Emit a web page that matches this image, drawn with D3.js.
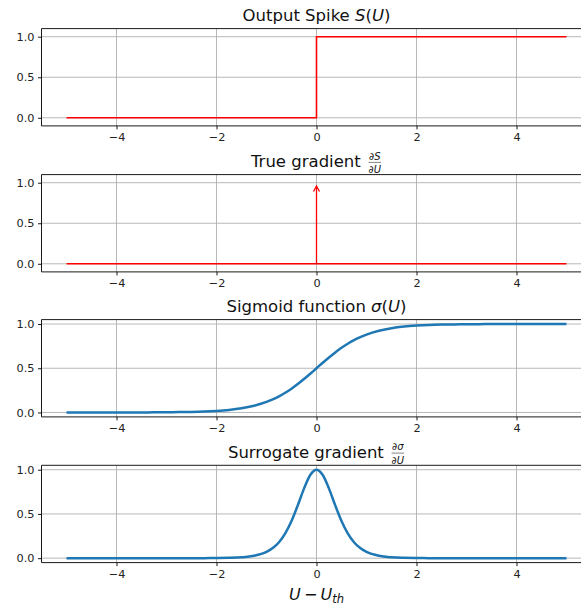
<!DOCTYPE html>
<html><head><meta charset="utf-8">
<script src="https://cdn.jsdelivr.net/npm/d3@7"></script>
<style>body{margin:0;background:#fff}text{font-family:"DejaVu Sans",sans-serif;white-space:pre}</style>
</head><body><svg id="c" width="581" height="607"></svg>
<script>
// ---------- data ----------
const xTicks = [-4, -2, 0, 2, 4];
const yTicks = [0, 0.5, 1.0];
const yTickLabels = ["0.0", "0.5", "1.0"];
const xDomain = [-5.5, 5.5];

// Panel 1: step (Heaviside)
const stepX = [-5, 0, 5];
const stepY = [0, 1, 1];
// Panel 2: zero line + impulse arrow
const gradX = [-5, 5];
const gradY = [0, 0];
const impulseX = [0, 0];
const impulseY = [0, 1];
const curveX = [-5,-4.75,-4.5,-4.25,-4,-3.75,-3.5,-3.25,-3,-2.75,-2.5,-2.25,-2,-1.75,-1.5,-1.25,
  -1,-0.875,-0.75,-0.625,-0.5,-0.375,-0.25,-0.125,0,0.125,0.25,0.375,0.5,0.625,0.75,0.875,1,
  1.25,1.5,1.75,2,2.25,2.5,2.75,3,3.25,3.5,3.75,4,4.25,4.5,4.75,5];
const sigmoidY = [0.0000,0.0001,0.0001,0.0002,0.0003,0.0006,0.0009,0.0015,0.0025,0.0041,0.0067,0.0110,0.018,0.029,0.047,0.076,
  0.119,0.148,0.182,0.223,0.269,0.321,0.378,0.438,0.5,0.562,0.622,0.679,0.731,0.777,0.818,0.852,0.881,
  0.924,0.953,0.971,0.982,0.989,0.9933,0.9959,0.9975,0.9985,0.9991,0.9994,0.9997,0.9998,0.9999,0.9999,1.0];
const surrogateY = [0,0,0,0,0,0,0,0,0,0.0001,0.0002,0.0005,0.0013,0.0036,0.0099,0.0266,
  0.0707,0.1138,0.1807,0.2804,0.42,0.5966,0.7864,0.940,1,0.940,0.7864,0.5966,0.42,0.2804,0.1807,0.1138,0.0707,
  0.0266,0.0099,0.0036,0.0013,0.0005,0.0002,0.0001,0,0,0,0,0,0,0,0,0];

// ---------- layout ----------
const svg = d3.select("#c");
svg.append("rect").attr("width", 581).attr("height", 607).attr("fill", "#fff");
const L = 41.5, R = 591.5, H = 97.3;
const tops = [28.6, 174.6, 319.6, 465.3];
const ylims = [[-0.1, 1.1], [-0.1, 1.1], [-0.05, 1.05], [-0.05, 1.05]];
const x = d3.scaleLinear().domain(xDomain).range([L, R]);
const RED = "#ff0000", BLUE = "#1f77b4";

function panel(i) {
  const top = tops[i];
  const y = d3.scaleLinear().domain(ylims[i]).range([top + H, top]);
  const g = svg.append("g");
  // grid
  g.selectAll(null).data(xTicks).enter().append("line")
    .attr("x1", d => x(d)).attr("x2", d => x(d)).attr("y1", top).attr("y2", top + H)
    .attr("stroke", "#b0b0b0").attr("stroke-width", 0.9);
  g.selectAll(null).data(yTicks).enter().append("line")
    .attr("x1", L).attr("x2", R).attr("y1", d => y(d)).attr("y2", d => y(d))
    .attr("stroke", "#b0b0b0").attr("stroke-width", 0.9);
  // axes
  const ax = g.append("g").attr("transform", `translate(0,${top + H})`)
    .call(d3.axisBottom(x).tickValues(xTicks).tickSize(3.5).tickPadding(3.5)
      .tickFormat(d => (d < 0 ? "\u2212" + Math.abs(d) : String(d))));
  const ay = g.append("g").attr("transform", `translate(${L},0)`)
    .call(d3.axisLeft(y).tickValues(yTicks).tickSize(3.5).tickPadding(3.5)
      .tickFormat((d, k) => yTickLabels[k]));
  [ax, ay].forEach(a => {
    a.select(".domain").remove();
    a.selectAll(".tick line").attr("stroke", "#000").attr("stroke-width", 0.9);
    a.selectAll(".tick text").attr("fill", "#222").style("font-size", "11.3px")
      .style("font-family", '"DejaVu Sans", sans-serif');
  });
  // spines
  g.append("line").attr("x1", L).attr("x2", L).attr("y1", top).attr("y2", top + H).attr("stroke", "#000").attr("stroke-width", 0.9);
  g.append("line").attr("x1", L).attr("x2", R).attr("y1", top).attr("y2", top).attr("stroke", "#000").attr("stroke-width", 0.9);
  g.append("line").attr("x1", L).attr("x2", R).attr("y1", top + H).attr("y2", top + H).attr("stroke", "#000").attr("stroke-width", 0.9);
  return { g, y, top };
}

function title(g, top, parts, frac) {
  const base = top - 7.6;
  const t = g.append("text").attr("y", base).attr("x", 0).style("font-size", "16.5px").attr("fill", "#111");
  parts.forEach(p => t.append("tspan").text(p.t).style("font-style", p.i ? "italic" : "normal"));
  let w = t.node().getComputedTextLength();
  let fw = 0, num, den;
  if (frac) {
    num = g.append("text").attr("y", base - 7.4).style("font-size", "10px").attr("fill", "#111").attr("text-anchor", "middle");
    num.append("tspan").text("\u2202"); num.append("tspan").text(frac[0]).style("font-style", "italic");
    den = g.append("text").attr("y", base + 6).style("font-size", "10px").attr("fill", "#111").attr("text-anchor", "middle");
    den.append("tspan").text("\u2202"); den.append("tspan").text(frac[1]).style("font-style", "italic");
    fw = Math.max(num.node().getComputedTextLength(), den.node().getComputedTextLength()) + 2;
  }
  const total = w + (frac ? 1.5 + fw : 0);
  const cx = (L + R) / 2;
  const x0 = cx - total / 2;
  t.attr("x", x0);
  if (frac) {
    const fx = x0 + w + 1.5 + fw / 2;
    num.attr("x", fx); den.attr("x", fx);
    g.append("line").attr("x1", fx - fw / 2 + 1).attr("x2", fx + fw / 2 - 1)
      .attr("y1", base - 4.6).attr("y2", base - 4.6).attr("stroke", "#333").attr("stroke-width", 0.6);
  }
}

// Panel 1
{
  const p = panel(0);
  const line = d3.line().x(d => x(d[0])).y(d => p.y(d[1])).curve(d3.curveStepAfter);
  p.g.append("path").attr("d", line(stepX.map((v, k) => [v, stepY[k]])))
    .attr("fill", "none").attr("stroke", RED).attr("stroke-width", 1.6);
  title(p.g, p.top, [{ t: "Output Spike\u00a0" }, { t: "S", i: 1 }, { t: "(" }, { t: "U", i: 1 }, { t: ")" }]);
}
// Panel 2
{
  const p = panel(1);
  const line = d3.line().x(d => x(d[0])).y(d => p.y(d[1]));
  p.g.append("path").attr("d", line(gradX.map((v, k) => [v, gradY[k]])))
    .attr("fill", "none").attr("stroke", RED).attr("stroke-width", 1.6);
  const x1 = x(impulseX[0]), y1 = p.y(impulseY[0]);
  const x2 = x(impulseX[1]), y2 = p.y(impulseY[1]) + 3.3; // annotate shrink
  p.g.append("line").attr("x1", x1).attr("x2", x2).attr("y1", y1).attr("y2", y2)
    .attr("stroke", RED).attr("stroke-width", 1.3);
  p.g.append("path").attr("d", `M${x2 - 3},${y2 + 5.5}L${x2},${y2}L${x2 + 3},${y2 + 5.5}`)
    .attr("fill", "none").attr("stroke", RED).attr("stroke-width", 1.3);
  title(p.g, p.top, [{ t: "True gradient\u00a0" }], ["S", "U"]);
}
// Panel 3
{
  const p = panel(2);
  const line = d3.line().x(d => x(d[0])).y(d => p.y(d[1])).curve(d3.curveMonotoneX);
  p.g.append("path").attr("d", line(curveX.map((v, k) => [v, sigmoidY[k]])))
    .attr("fill", "none").attr("stroke", BLUE).attr("stroke-width", 2.5);
  title(p.g, p.top, [{ t: "Sigmoid function\u00a0" }, { t: "\u03c3", i: 1 }, { t: "(" }, { t: "U", i: 1 }, { t: ")" }]);
}
// Panel 4
{
  const p = panel(3);
  const line = d3.line().x(d => x(d[0])).y(d => p.y(d[1])).curve(d3.curveMonotoneX);
  p.g.append("path").attr("d", line(curveX.map((v, k) => [v, surrogateY[k]])))
    .attr("fill", "none").attr("stroke", BLUE).attr("stroke-width", 2.5);
  title(p.g, p.top, [{ t: "Surrogate gradient\u00a0" }], ["\u03c3", "U"]);
  // x label
  const xl = p.g.append("text").attr("y", 600).style("font-size", "16px").attr("fill", "#111").attr("text-anchor", "middle")
    .attr("x", (L + R) / 2);
  xl.append("tspan").text("U").style("font-style", "italic");
  xl.append("tspan").text("\u2009\u2212\u2009");
  xl.append("tspan").text("U").style("font-style", "italic");
  xl.append("tspan").text("th").style("font-style", "italic").style("font-size", "11.5px").attr("dy", 3);
}
</script></body></html>
